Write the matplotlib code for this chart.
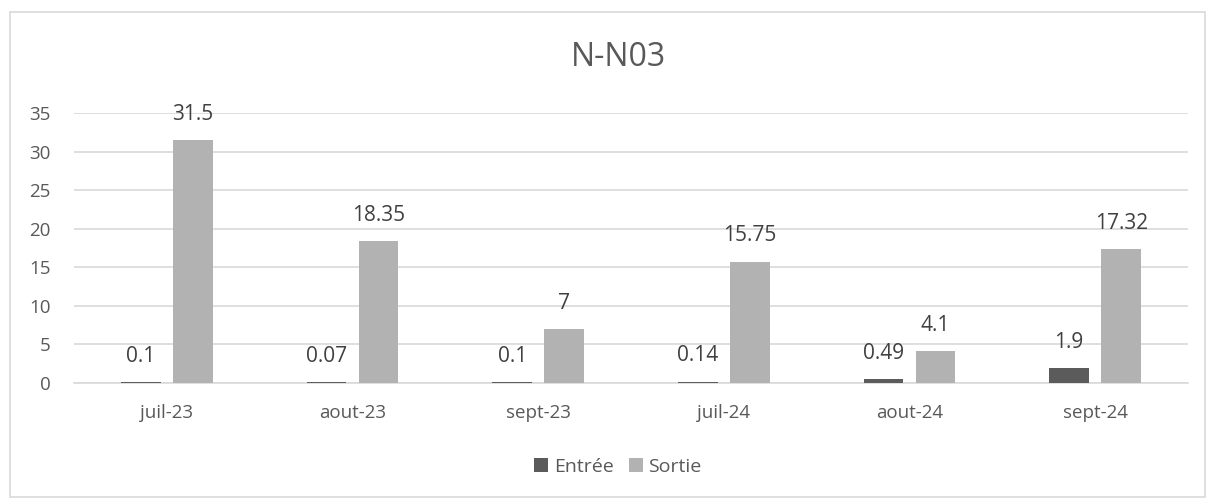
import matplotlib
matplotlib.use("Agg")
import matplotlib.pyplot as plt
from matplotlib.patches import Rectangle
import numpy as np

categories = ["juil-23", "aout-23", "sept-23", "juil-24", "aout-24", "sept-24"]
entree = [0.1, 0.07, 0.1, 0.14, 0.49, 1.9]
sortie = [31.5, 18.35, 7, 15.75, 4.1, 17.32]
entree_labels = ["0.1", "0.07", "0.1", "0.14", "0.49", "1.9"]
sortie_labels = ["31.5", "18.35", "7", "15.75", "4.1", "17.32"]

plt.rcParams['font.family'] = ['Open Sans', 'DejaVu Sans']
txt = "#595959"
c_in = "#5b5b5b"
c_out = "#b2b2b2"
grid = "#d9d9d9"

fig = plt.figure(figsize=(12.06, 4.98), dpi=100)
fig.patches.append(Rectangle((10/1206, 1/498), 1195/1206, 485/498, transform=fig.transFigure,
                             fill=False, edgecolor="#d9d9d9", linewidth=1.2))
ax = fig.add_axes([74/1206, 1-383/498, (1188-74)/1206, 270/498])

x = np.arange(len(categories))
w = 0.215
off = (w + 0.065) / 2
b1 = ax.bar(x - off, entree, w, color=c_in, label="Entrée", zorder=3)
b2 = ax.bar(x + off, sortie, w, color=c_out, label="Sortie", zorder=3)

for bars, labs in ((b1, entree_labels), (b2, sortie_labels)):
    for r, l in zip(bars, labs):
        ax.annotate(l, (r.get_x() + r.get_width()/2, r.get_height()), xytext=(0, 26),
                    textcoords="offset pixels", ha="center", va="center", fontsize=15, color="#404040")

ax.set_xlim(-0.5, len(categories) - 0.5)
ax.set_ylim(0, 35)
ax.set_yticks(range(0, 36, 5))
ax.set_xticks(x)
ax.set_xticklabels(categories)
ax.yaxis.grid(True, color=grid, linewidth=1.2, zorder=0)
ax.set_axisbelow(True)
for s in ["top", "right", "left"]:
    ax.spines[s].set_visible(False)
ax.spines["bottom"].set_color(grid)
ax.spines["bottom"].set_linewidth(1.2)
ax.tick_params(axis="both", length=0, labelsize=13.5, colors=txt)
ax.tick_params(axis="x", pad=15)
ax.tick_params(axis="y", pad=17)

fig.text(618/1206, 1-57/498, "N-N03", ha="center", va="center", fontsize=23, color=txt)
fig.legend(handles=[b1, b2], loc="center", bbox_to_anchor=(618/1206, 1-467/498), ncol=2,
           frameon=False, fontsize=14, labelcolor=txt, handlelength=0.7, handleheight=0.7,
           handletextpad=0.3, columnspacing=0.8)

fig.savefig("out.png", dpi=100)
